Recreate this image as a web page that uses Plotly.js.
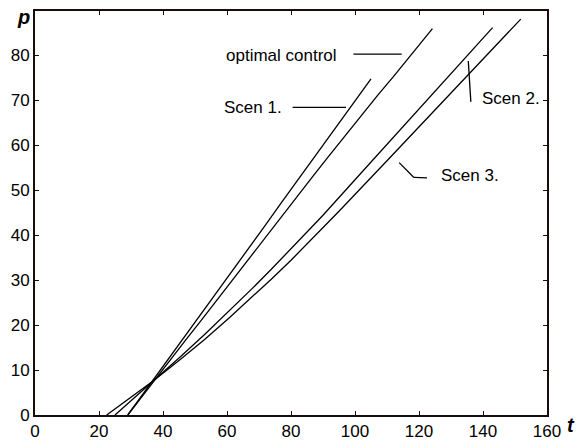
<!DOCTYPE html>
<html>
<head>
<meta charset="utf-8">
<script src="https://cdn.plot.ly/plotly-3.0.1.min.js"></script>
<style>html,body{margin:0;padding:0;background:#fff;}#chart{width:579px;height:443px;}</style>
</head>
<body>
<div id="chart"></div>
<script>
// Data (t, p)
const scen1T = [29, 33, 37, 42, 47, 52, 57, 62, 67, 72, 77, 82, 87, 92, 97, 101, 105];
const scen1P = [0, 3.9, 7.9, 12.8, 17.7, 22.6, 27.5, 32.4, 37.3, 42.2, 47.2, 52.1, 57.0, 62.0, 66.9, 70.8, 74.7];

const optT = [29, 33, 37, 42, 47, 52, 57, 62, 67, 72, 77, 82, 87, 92, 97, 102, 107, 112, 117, 121, 124.2];
const optP = [0, 3.7, 7.6, 12.0, 16.6, 21.1, 25.7, 30.4, 34.9, 39.5, 44.0, 48.7, 53.2, 57.7, 62.2, 66.6, 71.0, 75.2, 79.6, 83.1, 85.9];

const scen2T = [25, 29, 33, 37, 45, 53, 61, 68, 74, 80, 86, 90, 100, 110, 120, 130, 138, 143];
const scen2P = [0, 2.5, 5.0, 7.6, 12.65, 17.9, 23.3, 28.2, 32.5, 36.9, 41.4, 44.4, 52.3, 60.2, 68.0, 75.9, 82.2, 86.1];

const scen3T = [22.4, 30, 37, 45, 53, 61, 68, 74, 80, 86, 95, 110, 120, 130, 140, 151.8];
const scen3P = [0, 3.9, 7.6, 12.1, 16.8, 21.8, 26.3, 30.3, 34.4, 38.7, 45.3, 56.5, 64.0, 71.5, 79.0, 88.0];

const xTicks = [0, 20, 40, 60, 80, 100, 120, 140, 160];
const yTicks = [0, 10, 20, 30, 40, 50, 60, 70, 80];

const labelNames = ['optimal control', 'Scen 1.', 'Scen 2.', 'Scen 3.'];

const lineStyle = {color: '#000000', width: 1.3};
const traces = [
  {x: scen1T, y: scen1P, name: 'Scen 1.', mode: 'lines', line: lineStyle},
  {x: optT, y: optP, name: 'optimal control', mode: 'lines', line: lineStyle},
  {x: scen2T, y: scen2P, name: 'Scen 2.', mode: 'lines', line: lineStyle},
  {x: scen3T, y: scen3P, name: 'Scen 3.', mode: 'lines', line: lineStyle}
];

const fontFam = 'Liberation Sans, Arial, sans-serif';
const axisCol = '#1a0c0c';
const fs = 17;

const pointer = (x0, y0, x1, y1) => ({type: 'line', xref: 'x', yref: 'y', x0: x0, y0: y0, x1: x1, y1: y1, line: {color: '#000', width: 1.3}});
const label = (text, x, y) => ({text: text, x: x, y: y, xref: 'x', yref: 'y', showarrow: false, xanchor: 'center', yanchor: 'middle', font: {family: fontFam, size: fs, color: '#000'}});

const layout = {
  width: 579, height: 443,
  margin: {l: 35, r: 32, t: 11, b: 28, pad: 0},
  paper_bgcolor: '#ffffff', plot_bgcolor: '#ffffff',
  showlegend: false,
  font: {family: fontFam, size: fs, color: '#000'},
  xaxis: {
    range: [0, 160], tickvals: xTicks, ticks: 'inside', ticklen: 4, tickwidth: 1, tickcolor: axisCol,
    showline: true, linecolor: axisCol, linewidth: 2, mirror: 'ticks',
    showgrid: false, zeroline: false, tickfont: {family: fontFam, size: fs, color: '#000'}
  },
  yaxis: {
    range: [0, 89.8], tickvals: yTicks, ticks: 'inside', ticklen: 4, tickwidth: 1, tickcolor: axisCol,
    showline: true, linecolor: axisCol, linewidth: 2, mirror: 'ticks',
    showgrid: false, zeroline: false, tickfont: {family: fontFam, size: fs, color: '#000'}
  },
  shapes: [
    pointer(99.5, 80.2, 114.6, 80.2),
    pointer(80.5, 68.4, 97.2, 68.4),
    pointer(135.4, 78.7, 136.2, 69.6),
    pointer(113.8, 56.1, 118.4, 52.8),
    pointer(118.4, 52.8, 122.5, 52.7)
  ],
  annotations: [
    label(labelNames[0], 77.1, 80.0),
    label(labelNames[1], 68.1, 68.3),
    label(labelNames[2], 148.9, 70.4),
    label(labelNames[3], 136.0, 53.3),
    {text: '<b><i>p</i></b>', x: -0.023, y: 0.985, xref: 'paper', yref: 'paper', showarrow: false, xanchor: 'center', yanchor: 'middle', font: {family: fontFam, size: 20, color: '#000'}},
    {text: '<b><i>t</i></b>', x: 1.047, y: -0.025, xref: 'paper', yref: 'paper', showarrow: false, xanchor: 'center', yanchor: 'middle', font: {family: fontFam, size: 20, color: '#000'}}
  ]
};

Plotly.newPlot('chart', traces, layout, {staticPlot: true, displayModeBar: false});
</script>
</body>
</html>
